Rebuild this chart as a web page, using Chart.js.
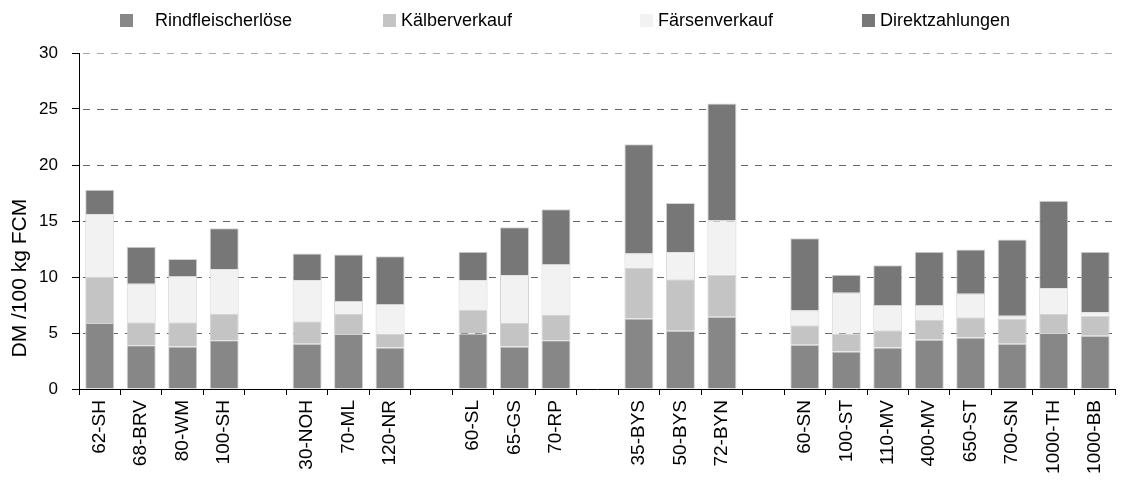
<!DOCTYPE html>
<html>
<head>
<meta charset="utf-8">
<script src="https://cdn.jsdelivr.net/npm/chart.js@4/dist/chart.umd.min.js"></script>
<style>
  body { margin: 0; background: #fff; }
  #wrap { position: relative; width: 1123px; height: 484px; }
  #legend { position: absolute; top: 0; left: 0; width: 1123px; height: 40px; font: 18px "Liberation Sans", Arial, sans-serif; color: #000; }
  .item { position: absolute; top: 10px; display: flex; align-items: center; white-space: nowrap; }
  .box { width: 13px; height: 13px; display: inline-block; }
</style>
</head>
<body>
<div id="wrap">
  <canvas id="chart" width="1123" height="484"></canvas>
  <div id="legend"></div>
</div>
<script>
// categories, empty strings are the gaps between the groups
const categories = ["62-SH", "68-BRV", "80-WM", "100-SH", "",
    "30-NOH", "70-ML", "120-NR", "",
    "60-SL", "65-GS", "70-RP", "",
    "35-BYS", "50-BYS", "72-BYN", "",
    "60-SN", "100-ST", "110-MV", "400-MV", "650-ST", "700-SN", "1000-TH", "1000-BB"];

const rindfleisch = [5.9, 3.9, 3.8, 4.35, null, 4.05, 4.9, 3.7, null, 4.95, 3.8, 4.35, null, 6.3, 5.2, 6.45, null, 3.95, 3.35, 3.7, 4.4, 4.6, 4.05, 5.0, 4.75];
const kaelber     = [4.1, 2.05, 2.15, 2.35, null, 2.0, 1.8, 1.2, null, 2.15, 2.1, 2.25, null, 4.5, 4.6, 3.75, null, 1.75, 1.6, 1.55, 1.8, 1.8, 2.25, 1.7, 1.8];
const faersen     = [5.6, 3.45, 4.15, 4.0, null, 3.65, 1.15, 2.7, null, 2.6, 4.25, 4.55, null, 1.3, 2.4, 4.85, null, 1.3, 3.65, 2.25, 1.3, 2.1, 0.25, 2.3, 0.3];
const direkt      = [2.2, 3.3, 1.5, 3.65, null, 2.4, 4.15, 4.25, null, 2.55, 4.3, 4.9, null, 9.75, 4.4, 10.45, null, 6.45, 1.6, 3.55, 4.75, 3.95, 6.8, 7.8, 5.4];

const seriesNames = ["Rindfleischerlöse", "Kälberverkauf", "Färsenverkauf", "Direktzahlungen"];
const yTicks = [0, 5, 10, 15, 20, 25, 30];
const yTitle = "DM /100 kg FCM";

const colors = ["#878787", "#c4c4c4", "#f2f2f2", "#777777"];
const legendLeft = [120, 383, 640, 862];   // box x of each legend entry
const legendGap = [22, 5, 5, 5];

const FONT = "'Liberation Sans', Arial, sans-serif";

const seriesData = [rindfleisch, kaelber, faersen, direkt];
const datasets = seriesNames.map((name, i) => ({
    label: name,
    data: seriesData[i],
    backgroundColor: colors[i],
    borderColor: "#d4d4d4",
    borderWidth: 1,
    categoryPercentage: 1.0,
    barPercentage: 0.7
}));

// html legend
const legend = document.getElementById("legend");
seriesNames.forEach((name, i) => {
    const item = document.createElement("div");
    item.className = "item";
    item.style.left = legendLeft[i] + "px";
    const box = document.createElement("span");
    box.className = "box";
    box.style.background = colors[i];
    box.style.marginRight = legendGap[i] + "px";
    const txt = document.createElement("span");
    txt.textContent = name;
    item.appendChild(box);
    item.appendChild(txt);
    legend.appendChild(item);
});

// dashed horizontal grid lines, drawn under the bars
const dashedGrid = {
    id: "dashedGrid",
    beforeDatasetsDraw(chart) {
        const { ctx, chartArea, scales: { y } } = chart;
        ctx.save();
        ctx.lineWidth = 1;
        ctx.setLineDash([7, 7]);
        yTicks.forEach(v => {
            if (v === 0) return;
            const py = Math.round(y.getPixelForValue(v)) + 0.5;
            ctx.strokeStyle = v === 30 ? "#aaaaaa" : "#666666";
            ctx.beginPath();
            ctx.moveTo(chartArea.left + 4, py);
            ctx.lineTo(chartArea.right, py);
            ctx.stroke();
        });
        ctx.restore();
    }
};

// y axis title sits lower than the middle of the axis in the original
const axisTitle = {
    id: "axisTitle",
    afterDraw(chart) {
        const { ctx, scales: { y } } = chart;
        ctx.save();
        ctx.translate(20, y.getPixelForValue(9.9));
        ctx.rotate(-Math.PI / 2);
        ctx.font = "21px " + FONT;
        ctx.fillStyle = "#000";
        ctx.textAlign = "center";
        ctx.textBaseline = "middle";
        ctx.fillText(yTitle, 0, 0);
        ctx.restore();
    }
};

new Chart(document.getElementById("chart"), {
    type: "bar",
    data: { labels: categories, datasets },
    plugins: [dashedGrid, axisTitle],
    options: {
        responsive: false,
        animation: false,
        layout: { padding: { top: 53, right: 2, left: 0, bottom: 0 } },
        plugins: { legend: { display: false }, tooltip: { enabled: false } },
        scales: {
            x: {
                stacked: true,
                afterFit: s => { s.height = 95; },
                grid: { offset: true, drawOnChartArea: false, tickLength: 6, tickColor: "#000" },
                border: { color: "#000", width: 1 },
                ticks: { color: "#000", font: { family: FONT, size: 19 }, minRotation: 90, maxRotation: 90, padding: 5, autoSkip: false }
            },
            y: {
                stacked: true,
                min: 0, max: 30,
                afterFit: s => { s.width = 79; },
                afterBuildTicks: s => { s.ticks = yTicks.map(v => ({ value: v })); },
                grid: { drawOnChartArea: false, tickLength: 7, tickColor: "#000" },
                border: { color: "#000", width: 1 },
                ticks: { color: "#000", font: { family: FONT, size: 17 }, padding: 14 }
            }
        }
    }
});
</script>
</body>
</html>
